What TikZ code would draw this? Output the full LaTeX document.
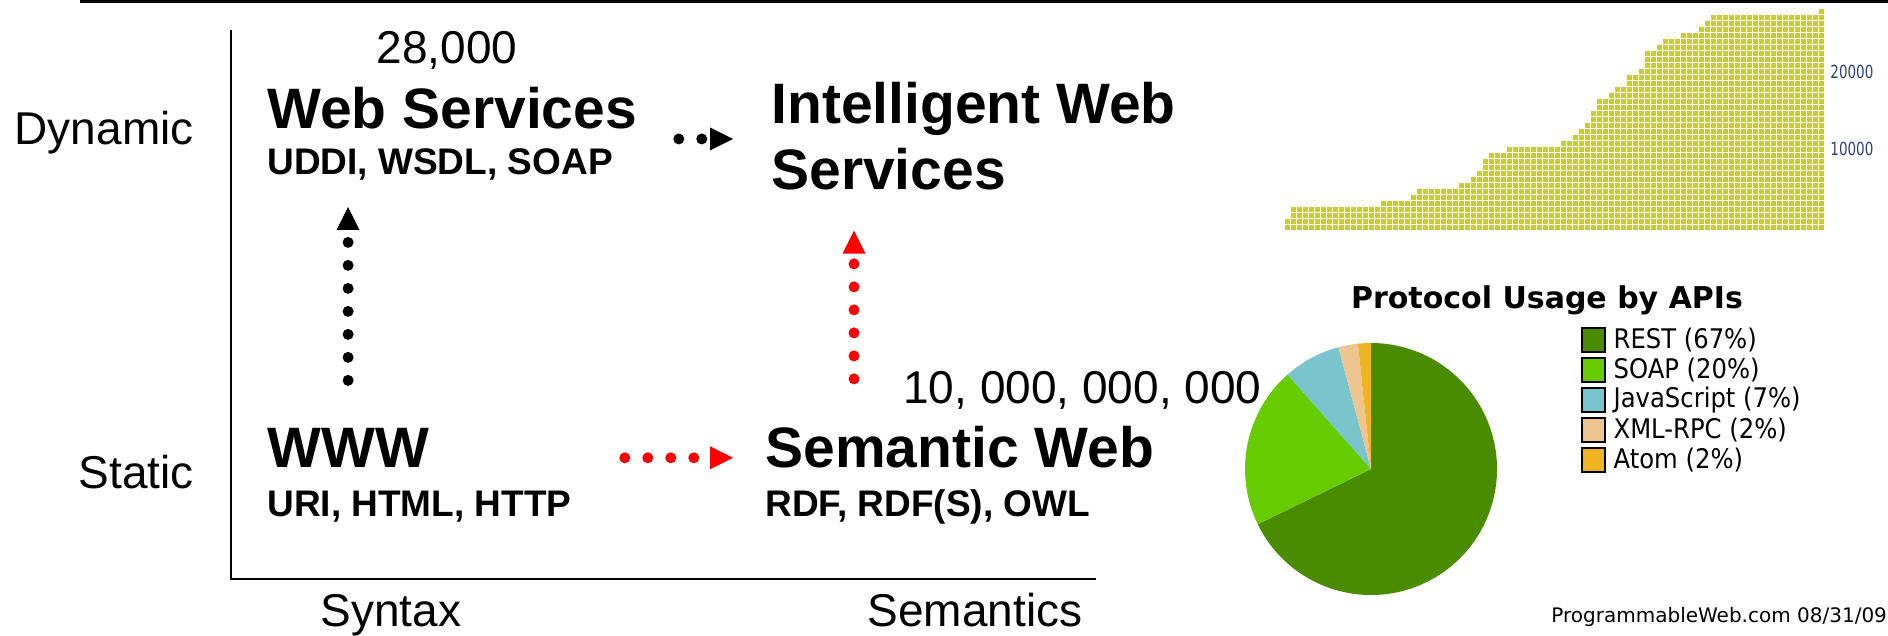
\documentclass[tikz,border=0pt]{standalone}
\usepackage{fontspec}
\setmainfont{Liberation Sans}
\newfontfamily\piefont{DejaVu Sans}
\newfontfamily\legendfont[FakeStretch=0.9]{DejaVu Sans}
\newfontfamily\ticksfont[FakeStretch=0.75]{DejaVu Sans}
\usetikzlibrary{arrows.meta,positioning}

\definecolor{restgreen}{RGB}{74,140,0}
\definecolor{soapgreen}{RGB}{102,204,0}
\definecolor{jsblue}{RGB}{122,197,205}
\definecolor{xmlpeach}{RGB}{238,197,145}
\definecolor{atomorange}{RGB}{238,180,34}
\definecolor{cellgreen}{RGB}{201,206,38}
\definecolor{ticknavy}{RGB}{46,64,120}

\begin{document}
\begin{tikzpicture}
[x=0.5pt, y=-0.5pt,
  axislabel/.style={font=\fontsize{23}{27}\selectfont, inner sep=0pt},
  webtitle/.style={font=\fontsize{28.5}{33}\selectfont\bfseries, inner sep=0pt},
  protocols/.style={font=\fontsize{18.5}{22}\selectfont\bfseries, inner sep=0pt},
  dotarrow/.style={line width=5.5pt, line cap=round, dash pattern=on 0pt off 11.5pt,
    -{Triangle[length=11.5pt, width=11.5pt, line width=0pt]}},
  swatch/.style={draw=black, line width=1.2pt, minimum width=11.5pt,
    minimum height=12pt, inner sep=0pt},
  legendtext/.style={font=\legendfont\fontsize{13.5}{16}\selectfont, inner sep=0pt},
  charttitle/.style={font=\piefont\fontsize{15}{18}\selectfont\bfseries, inner sep=0pt},
  ticklabel/.style={font=\ticksfont\fontsize{9}{11}\selectfont, text=ticknavy, inner sep=0pt},
  cellfill/.style={fill=cellgreen},
  gridgap/.style={white, line width=0.75pt}]
\useasboundingbox (0,0) rectangle (1888,636);

%% rule on top and the two axes
\draw[line width=1.35pt] (80,1.3) -- (1888,1.3);
\draw[line width=1pt] (231,30) -- (231,579) -- (1096,579);

%% axis labels
\node[axislabel, anchor=base east] (dynamic) at (194,145) {Dynamic};
\node[axislabel, anchor=base east] (static) at (194,488) {Static};
\node[axislabel, anchor=base] (syntax) at (391,626) {Syntax};
\node[axislabel, anchor=base] (semantics) at (975,626) {Semantics};

%% the four quadrants
\node[axislabel, anchor=base] (wscount) at (447,64) {28,000};
\node[webtitle, anchor=base west] (ws) at (267,129) {Web Services};
\node[protocols, anchor=base west] (wsproto) at (267,175) {UDDI, WSDL, SOAP};
\node[webtitle, anchor=base west] (www) at (267,467) {WWW};
\node[protocols, anchor=base west] (wwwproto) at (267,516) {URI, HTML, HTTP};
\node[webtitle, anchor=base west] (semweb) at (765,467) {Semantic Web};
\node[protocols, anchor=base west] (semproto) at (765,516) {RDF, RDF(S), OWL};
\node[webtitle, anchor=north west, align=left] (iws) at (771,82) {Intelligent Web\\Services};

%% pie of protocols
\begin{scope}[shift={(1371,469)}, y=0.5pt]
  \foreach \from/\to/\col in {-154/90/restgreen, 131.5/206/soapgreen,
    105/131.5/jsblue, 96/105/xmlpeach, 90/96/atomorange}
    \fill[\col] (0,0) -- (\from:126) arc[start angle=\from, end angle=\to, radius=126] -- cycle;
\end{scope}
\node[axislabel, anchor=base west] (pagecount) at (903,403) {10, 000, 000, 000};

%% dotted arrows between quadrants
\coordinate (wsgap) at ([yshift=-4.5pt]ws.south east);
\coordinate (wwwgap) at ([yshift=-5.2pt]www.east);
\coordinate (semfoot) at ([xshift=44.5pt]semweb.north west);
\draw[dotarrow, shorten <=20.65pt, shorten >=19pt] (wsgap) -- (wsgap -| iws.west);
\draw[dotarrow, shorten <=23.5pt, shorten >=16pt] (www.north) -- (www.north |- wsproto.base);
\draw[dotarrow, red, shorten <=97.8pt, shorten >=16pt] (wwwgap) -- (wwwgap -| semweb.west);
\draw[dotarrow, red, shorten <=23.2pt, shorten >=20pt] (semfoot) -- (semfoot |- iws.south);

%% legend
\node[charttitle, anchor=base] (pietitle) at (1547,308) {Protocol Usage by APIs};
\foreach \col/\lbl [count=\i from 0] in {restgreen/REST (67\%), soapgreen/SOAP (20\%),
  jsblue/JavaScript (7\%), xmlpeach/XML-RPC (2\%), atomorange/Atom (2\%)}
{
  \node[swatch, fill=\col] (sw\i) at (1593.5,340+30*\i) {};
  \node[legendtext, right=3.5pt of sw\i] (lbl\i) {\lbl};
}
\node[anchor=base west, inner sep=0pt, font=\piefont\fontsize{10}{12}\selectfont]
  (credit) at (1551,622) {ProgrammableWeb.com 08/31/09};

%% growth chart made of small cells
\foreach \h/\n [remember=\colend as \colstart (initially 0),
  evaluate=\n as \colend using int(\colstart+\n)] in {
  2/1, 4/15, 5/5, 6/1, 7/7, 8/2, 9/1, 10/1, 12/1, 13/3, 14/9, 15/2, 16/1,
  17/1, 18/1, 20/1, 22/2, 23/1, 24/2, 26/2, 27/1, 30/2, 31/1, 32/3, 33/3,
  34/1, 35/1, 36/18, 37/1}
  \fill[cellfill] (1285+6*\colstart,230) rectangle (1285+6*\colend-1.5,230-6*\h+1.5);
\foreach \k in {1,...,89}
  \draw[gridgap] (1285+6*\k-0.75,231) -- (1285+6*\k-0.75,4);
\foreach \k in {1,...,37}
  \draw[gridgap] (1283,230-6*\k+0.75) -- (1827,230-6*\k+0.75);
\node[ticklabel, anchor=west] (tick20k) at (1830,72) {20000};
\node[ticklabel, anchor=west] (tick10k) at (1830,149) {10000};
\end{tikzpicture}
\end{document}
